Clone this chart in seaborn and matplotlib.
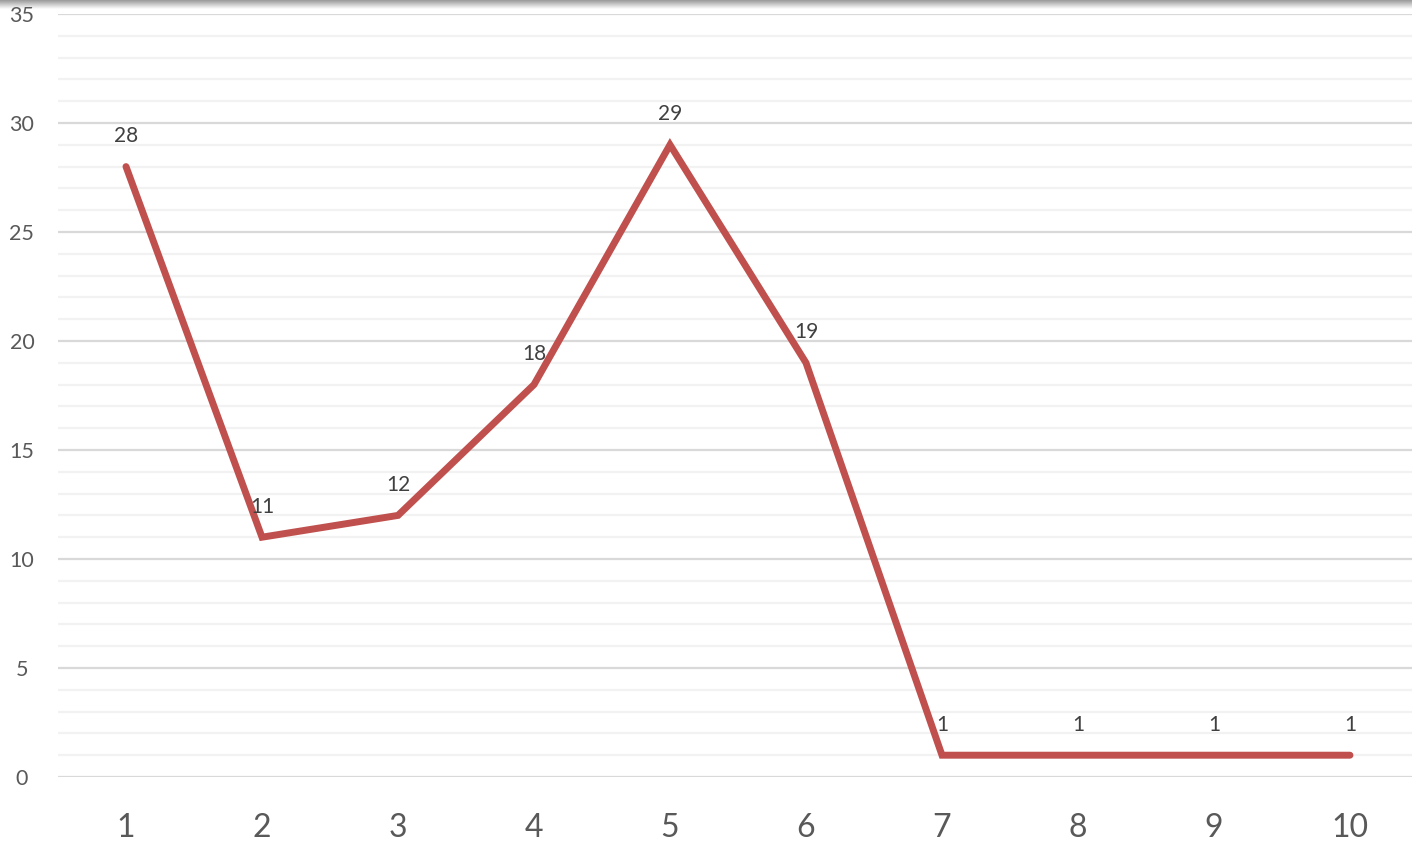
import numpy as np
import pandas as pd
import matplotlib
matplotlib.use("Agg")
import matplotlib.pyplot as plt
import seaborn as sns

categories = [1, 2, 3, 4, 5, 6, 7, 8, 9, 10]
values = [28, 11, 12, 18, 29, 19, 1, 1, 1, 1]
y_ticks = [0, 5, 10, 15, 20, 25, 30, 35]

sns.set_theme(style="white")
plt.rcParams['font.family'] = ['Lato', 'DejaVu Sans']

df = pd.DataFrame({"x": categories, "y": values})

fig = plt.figure(figsize=(14.12, 8.44), dpi=100)

# top shadow (added first so the axes text is drawn over it)
sax = fig.add_axes([0, 1 - 9/844, 1, 9/844])
grad = np.linspace(0.6, 1.0, 50).reshape(-1, 1)
sax.imshow(np.dstack([grad, grad, grad]), aspect="auto", extent=[0, 1, 0, 1], origin="upper")
sax.axis("off")

ax = fig.add_axes([58/1412, 67/844, 1 - 58/1412, (777-14)/844])
ax.patch.set_alpha(0)

# grid
for v in range(0, 36):
    if v % 5 == 0:
        ax.axhline(v, color="#D9D9D9", lw=1.6, zorder=0)
    else:
        ax.axhline(v, color="#F2F2F2", lw=1.6, zorder=0)

sns.lineplot(data=df, x="x", y="y", ax=ax, color="#C0504D", lw=5,
             solid_capstyle="round", solid_joinstyle="miter", zorder=3)

for xv, yv in zip(categories, values):
    ax.annotate(str(yv), (xv, yv), xytext=(0, 22), textcoords="offset points",
                ha="center", va="center", fontsize=15, color="#404040")

ax.set_xlim(0.5, 10.456)
ax.set_ylim(0, 35)
ax.set_xticks(categories)
ax.set_xticklabels([str(c) for c in categories], fontsize=23, color="#595959")
ax.set_yticks(y_ticks)
ax.set_yticklabels([str(t) for t in y_ticks], fontsize=15.5, color="#595959")
ax.tick_params(axis="x", length=0, pad=26)
ax.tick_params(axis="y", length=0, pad=26)
for lab in ax.get_yticklabels():
    lab.set_horizontalalignment("center")
ax.set_xlabel("")
ax.set_ylabel("")
for s in ax.spines.values():
    s.set_visible(False)

fig.savefig("out.png", dpi=100)
